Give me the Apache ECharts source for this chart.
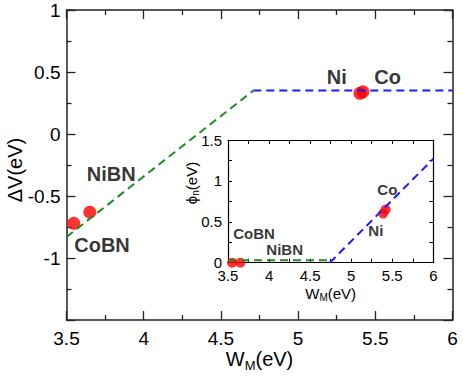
<!DOCTYPE html>
<html><head><meta charset="utf-8">
<script src="https://cdn.jsdelivr.net/npm/echarts@6/dist/echarts.min.js"></script>
<style>
html,body{margin:0;padding:0;background:#fff}
#wrap{position:relative;width:463px;height:378px}
#c,#c2{position:absolute;left:0;top:0;width:463px;height:378px}
#e{position:absolute;z-index:9999;left:0;bottom:0;font:9px monospace;white-space:pre-wrap;color:#c00}
</style>
</head><body><div id="wrap"><div id="c"></div><div id="c2"></div></div><div id="e"></div>
<script>
window.onerror = function(m){ document.getElementById('e').textContent += 'ERR ' + m + '\n'; };
// ---- main panel data ----
const mainGreen = [[3.5, -0.83], [4.71, 0.35]];
const mainBlue = [[4.71, 0.35], [6.0, 0.35]];
const mainPoints = [[3.547, -0.72], [3.651, -0.631], [5.40, 0.328], [5.42, 0.34]];
const mainLabels = [['Ni', 5.25, 0.462], ['Co', 5.58, 0.462], ['NiBN', 3.79, -0.32], ['CoBN', 3.73, -0.895]];
const mainXTicks = [3.5, 4, 4.5, 5, 5.5, 6];
const mainYTicks = [-1.5, -1, -0.5, 0, 0.5, 1];
// ---- inset data ----
const insetGreen = [[3.5, 0.03], [4.74, 0.03]];
const insetBlue = [[4.74, 0], [6.0, 1.27]];
const insetPoints = [[3.55, 0], [3.65, 0], [5.39, 0.6], [5.42, 0.65]];
const insetLabels = [['CoBN', 3.817, 0.363], ['NiBN', 4.19, 0.165], ['Co', 5.44, 0.893], ['Ni', 5.30, 0.388]];
const insetXTicks = [3.5, 4, 4.5, 5, 5.5, 6];
const insetYTicks = [0, 0.5, 1, 1.5];

const FONT = 'Liberation Sans';

function makeAxis(o) {
  return {
    type: 'value', position: o.pos,
    min: o.ticks[0], max: o.ticks[o.ticks.length - 1], interval: 0.5,
    axisLine: { show: true, onZero: false, lineStyle: { color: o.color, width: o.lw } },
    axisTick: { show: true, inside: true, length: o.tl, lineStyle: { color: o.color, width: o.tw } },
    minorTick: { show: true, splitNumber: 2, length: o.ml, lineStyle: { color: o.color, width: o.tw } },
    splitLine: { show: false },
    axisLabel: { show: o.labels, showMinLabel: o.hideMin ? false : true, color: '#000', fontFamily: FONT, fontSize: o.fs, margin: o.margin || 8 }
  };
}
const M = { color: '#222', lw: 1.5, tl: 9, ml: 5, tw: 1.3, fs: 19 };
const I = { color: '#000', lw: 1.2, tl: 4, ml: 4, tw: 1, fs: 15 };

function lineSeries(data, color, xi, yi) {
  return { type: 'line', data: data, xAxisIndex: xi, yAxisIndex: yi, symbol: 'none',
    lineStyle: { color: color, width: 2, type: [8, 5] } };
}
function pointSeries(data, size) {
  return { type: 'scatter', xAxisIndex: 0, yAxisIndex: 0, data: data, symbolSize: size,
    itemStyle: { color: '#ff0000' } };
}
function labelSeries(arr, fs) {
  return { type: 'scatter', xAxisIndex: 0, yAxisIndex: 0, symbolSize: 1,
    itemStyle: { color: 'rgba(0,0,0,0)' },
    data: arr.map(d => ({ name: d[0], value: [d[1], d[2]] })),
    label: { show: true, position: 'inside', formatter: p => p.name, color: '#000',
      fontFamily: FONT, fontWeight: 'bold', fontSize: fs } };
}
function titleText(text, x, y, fs, rot) {
  return { type: 'text', x: x, y: y, rotation: rot ? Math.PI / 2 : 0,
    style: { text: text, fill: '#000', fontFamily: FONT, fontSize: fs, align: 'center', verticalAlign: 'middle',
      rich: { b: { fontFamily: FONT, fontSize: fs, fill: '#000' },
              s: { fontFamily: FONT, fontSize: Math.round(fs * 0.65), fill: '#000', padding: [Math.round(fs * 0.6), 0, 0, 0] } } } };
}

// main panel
const chart = echarts.init(document.getElementById('c'), null, { renderer: 'svg' });
chart.setOption({
  animation: false,
  grid: { left: 66.5, top: 10, width: 386, height: 310 },
  xAxis: [
    makeAxis(Object.assign({}, M, { pos: 'bottom', ticks: mainXTicks, labels: true, margin: 9 })),
    makeAxis(Object.assign({}, M, { pos: 'top', ticks: mainXTicks, labels: false }))
  ],
  yAxis: [
    makeAxis(Object.assign({}, M, { pos: 'left', ticks: mainYTicks, labels: true, margin: 6, hideMin: true })),
    makeAxis(Object.assign({}, M, { pos: 'right', ticks: mainYTicks, labels: false }))
  ],
  graphic: [
    titleText('{b|W}{s|M}{b|(eV)}', 259.5, 359, 20, false),
    titleText('ΔV(eV)', 15, 170, 20, true)
  ],
  series: [
    lineSeries(mainGreen, '#1f8a1f', 0, 0),
    lineSeries(mainBlue, '#1a1aff', 0, 0),
    pointSeries(mainPoints, 13),
    labelSeries(mainLabels, 20)
  ]
});

// inset panel
const inset = echarts.init(document.getElementById('c2'), null, { renderer: 'svg' });
inset.setOption({
  animation: false,
  grid: { left: 228, top: 140, width: 205.3, height: 122.7 },
  xAxis: [
    makeAxis(Object.assign({}, I, { pos: 'bottom', ticks: insetXTicks, labels: true, margin: 5 })),
    makeAxis(Object.assign({}, I, { pos: 'top', ticks: insetXTicks, labels: false }))
  ],
  yAxis: [
    makeAxis(Object.assign({}, I, { pos: 'left', ticks: insetYTicks, labels: true, margin: 6 })),
    makeAxis(Object.assign({}, I, { pos: 'right', ticks: insetYTicks, labels: false }))
  ],
  graphic: [
    titleText('{b|W}{s|M}{b|(eV)}', 330.7, 293, 15, false),
    titleText('{b|ϕ}{s|n}{b|(eV)}', 191, 183, 15, true)
  ],
  series: [
    lineSeries(insetGreen, '#1f8a1f', 0, 0),
    lineSeries(insetBlue, '#1a1aff', 0, 0),
    pointSeries(insetPoints, 10),
    labelSeries(insetLabels, 15)
  ]
});
</script></body></html>
